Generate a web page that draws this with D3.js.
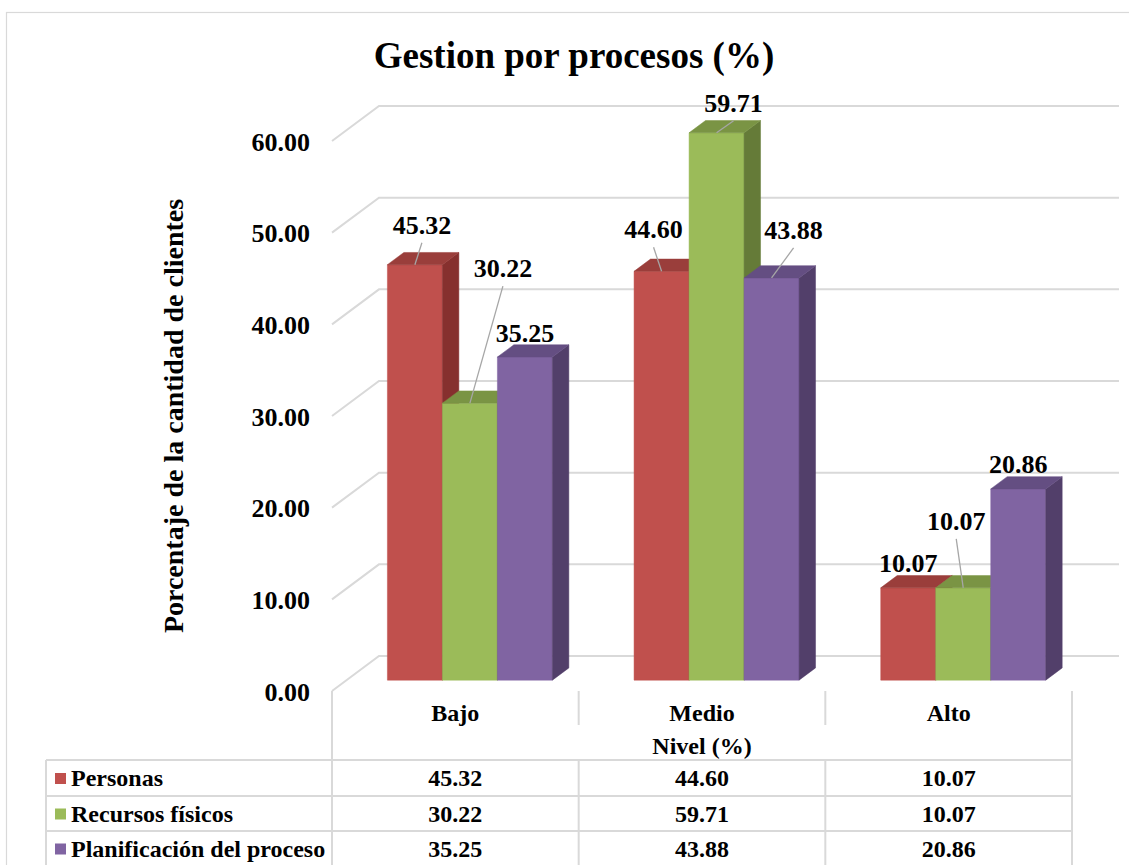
<!DOCTYPE html>
<html>
<head>
<meta charset="utf-8">
<script src="https://cdn.jsdelivr.net/npm/d3@7/dist/d3.min.js"></script>
<style>
  html, body { margin: 0; padding: 0; background: #ffffff; }
  svg { display: block; }
  text { font-family: "Liberation Serif", "Times New Roman", serif; font-weight: bold; fill: #000; }
</style>
</head>
<body>
<svg id="chart" width="1129" height="865"></svg>
<script>
// Chart data
const categories = ["Bajo", "Medio", "Alto"];
const seriesNames = ["Personas", "Recursos físicos", "Planificación del proceso"];
const personas = [45.32, 44.60, 10.07];
const recursosFisicos = [30.22, 59.71, 10.07];
const planificacion = [35.25, 43.88, 20.86];
const seriesValues = [personas, recursosFisicos, planificacion];
const yTicks = [0, 10, 20, 30, 40, 50, 60];
const titleText = "Gestion por procesos (%)";
const yTitleText = "Porcentaje de la cantidad de clientes";
const xTitleText = "Nivel (%)";

// Colours per series: front, top, side faces
const palette = [
  { front: "#c0504d", top: "#9a3e3b", side: "#86302e" },
  { front: "#9bbb59", top: "#7a9444", side: "#657b38" },
  { front: "#8064a2", top: "#644e82", side: "#523f6a" }
];

// Label placement relative to the top front edge of each bar [category][series]
const labelOffsets = [
  [[7, -40], [33, -135], [0, -24]],
  [[-8, -42], [17, -30], [22, -48]],
  [[0, -25], [-7, -67], [0, -25]]
];

const svg = d3.select("#chart");
const gridColor = "#d9d9d9";

// Outer chart frame
svg.append("rect")
  .attr("x", 6.5).attr("y", 12.5)
  .attr("width", 1140).attr("height", 900)
  .attr("fill", "none").attr("stroke", gridColor).attr("stroke-width", 1.2);

// Plot geometry (front plane) and 3D depth offset
const plotLeft = 332, plotRight = 1072;
const DX = 47, DY = 35;           // full depth of the floor
const d0 = 0.31, d1 = 0.66;       // bar depth range (fraction of floor depth)

const x = d3.scaleBand().domain(categories).range([plotLeft, plotRight]).paddingInner(0).paddingOuter(0);
const y = d3.scaleLinear().domain([0, 60]).range([691, 141]);

const barW = 55;
const groupW = barW * seriesNames.length;
const groupPad = (x.bandwidth() - groupW) / 2;
const xSub = d3.scaleBand().domain(d3.range(seriesNames.length)).range([0, groupW]);

const proj = (px, v, d) => [px + d * DX, y(v) - d * DY];

// Gridlines: short diagonal on the side wall plus horizontal line on the back wall
const grid = svg.append("g");
yTicks.forEach(t => {
  const a = proj(plotLeft, t, 0), b = proj(plotLeft, t, 1), c = proj(plotRight, t, 1);
  grid.append("path")
    .attr("d", `M${a[0]},${a[1]}L${b[0]},${b[1]}L${c[0]},${c[1]}`)
    .attr("fill", "none").attr("stroke", gridColor).attr("stroke-width", 2);
});

// Value axis labels
const yAxis = d3.axisLeft(y).tickValues(yTicks).tickFormat(d3.format(".2f")).tickSize(0).tickPadding(0);
const yAxisG = svg.append("g").attr("transform", "translate(310,0)").call(yAxis);
yAxisG.select(".domain").remove();
yAxisG.selectAll("text")
  .attr("font-size", 26)
  .attr("font-family", "Liberation Serif, Times New Roman, serif")
  .attr("font-weight", "bold")
  .attr("fill", "#000")
  .attr("dy", "0.35em");

// 3D bars
const bars = svg.append("g");
const poly = pts => "M" + pts.map(p => p.join(",")).join("L") + "Z";
const anchors = [];
categories.forEach((cat, ci) => {
  anchors.push([]);
  seriesValues.forEach((vals, si) => {
    const v = vals[ci];
    const x0 = x(cat) + groupPad + xSub(si);
    const x1 = x0 + barW;
    const col = palette[si];
    const g = bars.append("g");
    g.append("path").attr("d", poly([proj(x0, 0, d0), proj(x1, 0, d0), proj(x1, v, d0), proj(x0, v, d0)]))
      .attr("fill", col.front).attr("stroke", col.front).attr("stroke-width", 0.5);
    g.append("path").attr("d", poly([proj(x1, 0, d0), proj(x1, v, d0), proj(x1, v, d1), proj(x1, 0, d1)]))
      .attr("fill", col.side).attr("stroke", col.side).attr("stroke-width", 0.5);
    g.append("path").attr("d", poly([proj(x0, v, d0), proj(x1, v, d0), proj(x1, v, d1), proj(x0, v, d1)]))
      .attr("fill", col.top).attr("stroke", col.top).attr("stroke-width", 0.5);
    anchors[ci].push(proj(x0 + barW / 2, v, d0));
  });
});

// Data labels with leader lines
const labels = svg.append("g");
categories.forEach((cat, ci) => {
  seriesValues.forEach((vals, si) => {
    const [ax, ay] = anchors[ci][si];
    const [ox, oy] = labelOffsets[ci][si];
    const lx = ax + ox, ly = ay + oy;
    if (oy < -28) {
      labels.append("line")
        .attr("x1", lx).attr("y1", ly + 18)
        .attr("x2", ax).attr("y2", ay)
        .attr("stroke", "#a6a6a6").attr("stroke-width", 1.3);
    }
    labels.append("text")
      .attr("x", lx).attr("y", ly)
      .attr("dy", "0.35em")
      .attr("text-anchor", "middle")
      .attr("font-size", 26)
      .text(d3.format(".2f")(vals[ci]));
  });
});

// Title and axis title
svg.append("text")
  .attr("x", 574).attr("y", 68)
  .attr("text-anchor", "middle")
  .attr("font-size", 37)
  .text(titleText);

svg.append("text")
  .attr("transform", "translate(183,416) rotate(-90)")
  .attr("text-anchor", "middle")
  .attr("font-size", 28)
  .text(yTitleText);

// Category labels and data table
const table = svg.append("g");
const lineStyle = sel => sel.attr("stroke", gridColor).attr("stroke-width", 2);
const tableLeft = 46;
const rowTops = [760, 796, 831, 866];
const colEdges = [plotLeft].concat(categories.map(c => x(c) + x.bandwidth()));

// vertical lines
table.append("line").attr("x1", plotLeft).attr("x2", plotLeft).attr("y1", 691).attr("y2", 870).call(lineStyle);
table.append("line").attr("x1", plotRight).attr("x2", plotRight).attr("y1", 691).attr("y2", 870).call(lineStyle);
colEdges.slice(1, -1).forEach(cx => {
  table.append("line").attr("x1", cx).attr("x2", cx).attr("y1", 691).attr("y2", 725).call(lineStyle);
  table.append("line").attr("x1", cx).attr("x2", cx).attr("y1", rowTops[0]).attr("y2", 870).call(lineStyle);
});
table.append("line").attr("x1", tableLeft).attr("x2", tableLeft).attr("y1", rowTops[0]).attr("y2", 870).call(lineStyle);
// horizontal lines
rowTops.forEach(ry => {
  table.append("line").attr("x1", tableLeft).attr("x2", plotRight).attr("y1", ry).attr("y2", ry).call(lineStyle);
});

categories.forEach(cat => {
  table.append("text")
    .attr("x", x(cat) + x.bandwidth() / 2).attr("y", 721)
    .attr("text-anchor", "middle")
    .attr("font-size", 24)
    .text(cat);
});
table.append("text")
  .attr("x", (plotLeft + plotRight) / 2).attr("y", 754)
  .attr("text-anchor", "middle")
  .attr("font-size", 24)
  .text(xTitleText);

seriesNames.forEach((name, si) => {
  const top = rowTops[si], bottom = rowTops[si + 1];
  const mid = (top + bottom) / 2;
  table.append("rect")
    .attr("x", 55).attr("y", mid - 5)
    .attr("width", 11).attr("height", 11)
    .attr("fill", palette[si].front);
  table.append("text")
    .attr("x", 71).attr("y", mid + 8)
    .attr("font-size", 24)
    .text(name);
  categories.forEach((cat, ci) => {
    table.append("text")
      .attr("x", x(cat) + x.bandwidth() / 2).attr("y", mid + 8)
      .attr("text-anchor", "middle")
      .attr("font-size", 24)
      .text(d3.format(".2f")(seriesValues[si][ci]));
  });
});
</script>
</body>
</html>
